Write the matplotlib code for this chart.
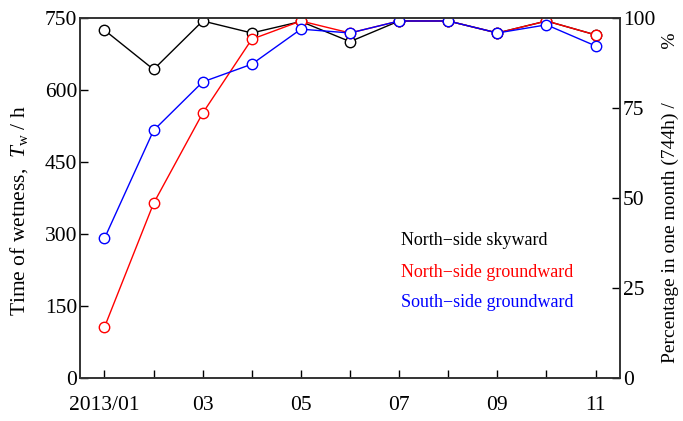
import numpy as np
import matplotlib
matplotlib.use('Agg')
import matplotlib.pyplot as plt

plt.rcParams['font.family'] = ['Liberation Serif', 'DejaVu Serif']
plt.rcParams['mathtext.fontset'] = 'custom'
plt.rcParams['mathtext.it'] = 'Liberation Serif:italic'
plt.rcParams['mathtext.rm'] = 'Liberation Serif'

# 月 (2013/01 - 2013/11)
months = np.arange(1, 12)
month_labels = ['2013/01', '', '03', '', '05', '', '07', '', '09', '', '11']

# 濡れ時間 [h]
north_sky = [725, 643, 744, 719, 743, 701, 744, 744, 719, 744, 715]
north_ground = [106, 364, 552, 706, 744, 719, 744, 744, 719, 744, 715]
south_ground = [291, 516, 617, 654, 727, 719, 744, 744, 719, 736, 692]

series_names = ['North\u2212side skyward', 'North\u2212side groundward', 'South\u2212side groundward']
series_colors = ['black', 'red', 'blue']

fig = plt.figure(figsize=(6.83, 4.21), dpi=100)
ax = fig.add_axes([0.117, 0.102, 0.791, 0.855])

for vals, col in zip([north_sky, north_ground, south_ground], series_colors):
    ax.plot(months, vals, color=col, lw=1.0, marker='o', ms=7.5,
            mfc='white', mec=col, mew=1.0)

ax.set_xlim(0.5, 11.5)
ax.set_ylim(0, 750)
ax.set_yticks([0, 150, 300, 450, 600, 750])
ax.set_xticks(months)
ax.set_xticklabels(month_labels)
ax.tick_params(direction='in', length=6, width=1.0, labelsize=15.5)
ax.tick_params(axis='x', pad=13)
ax.tick_params(axis='y', pad=2)
for s in ax.spines.values():
    s.set_linewidth(1.2)
    s.set_color('#333333')
ax.set_ylabel('Time of wetness,  $T_\\mathrm{w}$ / h', fontsize=15.5)
ax.yaxis.set_label_coords(-0.093, 0.464)

ax2 = ax.twinx()
ax2.set_ylim(0, 100)
ax2.set_yticks([0, 25, 50, 75, 100])
ax2.tick_params(direction='in', length=6, width=1.0, labelsize=15.5, pad=2)
ax2.set_ylabel('Percentage in one month (744h) /           %', fontsize=14)
ax2.yaxis.set_label_coords(1.077, 0.5)
for s in ax2.spines.values():
    s.set_linewidth(1.2)
    s.set_color('#333333')

# 凡例 (テキストのみ)
legend_y = [0.381, 0.294, 0.211]
for name, col, yy in zip(series_names, series_colors, legend_y):
    ax.text(0.595, yy, name, color=col, fontsize=13,
            transform=ax.transAxes, va='center', ha='left')

fig.savefig('out.png', dpi=100)
